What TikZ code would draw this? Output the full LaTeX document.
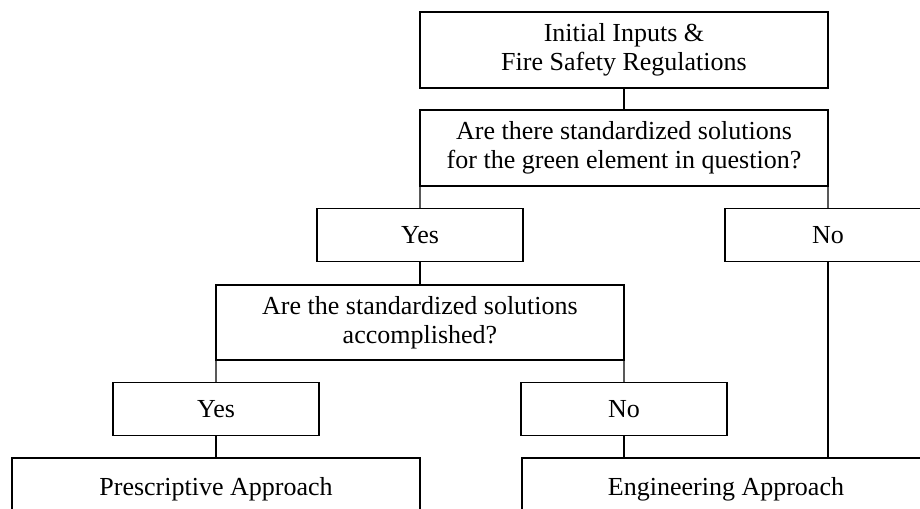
\documentclass[tikz,border=0pt]{standalone}
\usepackage{fontspec}
\setmainfont{Liberation Serif}

\tikzset{
  widebox/.style={draw, minimum width=8.16cm, minimum height=1.52cm, align=center, inner sep=0pt,
    outer sep=0pt, font=\fontsize{14.8pt}{16.6pt}\selectfont},
  answer/.style={draw, minimum width=4.12cm, minimum height=1.06cm, inner sep=0pt,
    outer sep=0pt, font=\fontsize{14.8pt}{16.6pt}\selectfont}
}

\begin{document}
\begin{tikzpicture}[x=0.02cm, y=-0.02cm, line width=0.7pt]

  \useasboundingbox (0, 0) rectangle (920, 509);
  \clip (0, 0) rectangle (920, 509);

  \node[widebox] (inputs) at (624, 50) {Initial Inputs \&\\Fire Safety Regulations};
  \node[widebox] (standard) at (624, 148) {Are there standardized solutions\\for the green element in question?};
  \node[answer] (yes1) at (420, 235) {Yes};
  \node[answer] (no1) at (828, 235) {No};
  \node[widebox, minimum height=1.5cm] (accomp) at (420, 322.5) {Are the standardized solutions\\accomplished?};
  \node[answer] (yes2) at (216, 409) {Yes};
  \node[answer] (no2) at (624, 409) {No};
  \node[widebox, minimum height=1.24cm] (presc) at (216, 489) {Prescriptive Approach};
  \node[widebox, minimum height=1.24cm] (eng) at (726, 489) {Engineering Approach};

  \draw (inputs) -- (standard);
  \draw (standard.south west) -- (yes1.north);
  \draw (standard.south east) -- (no1.north);

  \draw (yes1) -- (accomp);
  \draw (accomp.south west) -- (yes2.north);
  \draw (accomp.south east) -- (no2.north);

  \draw (yes2) -- (presc);
  \draw (no2.south) -- (no2.south |- eng.north);
  \draw (no1.south) -- (no1.south |- eng.north);

\end{tikzpicture}
\end{document}
